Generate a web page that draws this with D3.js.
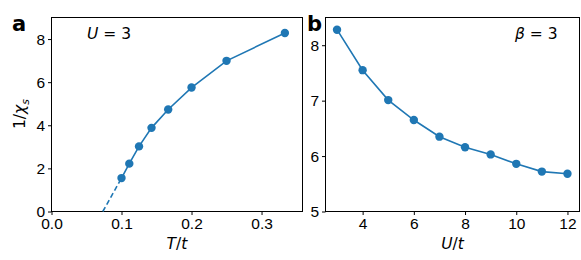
<!DOCTYPE html>
<html>
<head>
<meta charset="utf-8">
<script src="https://cdn.jsdelivr.net/npm/d3@7"></script>
<style>
  body { margin: 0; background: #fff; }
  svg { display: block; font-family: "DejaVu Sans", sans-serif; }
  .axis text { font-size: 15.5px; fill: #000; }
  .axis path, .axis line { stroke: #000; stroke-width: 1; }
</style>
</head>
<body>
<div id="chart"></div>
<script>
// panel a: 1/chi_s vs T/t at U = 3
var tempA = [1/10, 1/9, 1/8, 1/7, 1/6, 1/5, 1/4, 1/3];
var invChiA = [1.55, 2.22, 3.02, 3.88, 4.73, 5.75, 6.99, 8.28];
var extrapT = [0.0733, 0.1];
var extrapY = [0, 1.55];
var ticksA_x = [0.0, 0.1, 0.2, 0.3];
var ticksA_y = [0, 2, 4, 6, 8];

// panel b: 1/chi_s vs U/t at beta = 3
var uB = [3, 4, 5, 6, 7, 8, 9, 10, 11, 12];
var invChiB = [8.28, 7.55, 7.01, 6.65, 6.35, 6.16, 6.03, 5.86, 5.72, 5.68];
var ticksB_x = [4, 6, 8, 10, 12];
var ticksB_y = [5, 6, 7, 8];

var blue = "#1f77b4";
var w = 581, h = 260;
var svg = d3.select("#chart").append("svg").attr("width", w).attr("height", h);

function panel(opt) {
  var x = d3.scaleLinear().domain(opt.xdom).range([opt.left, opt.right]);
  var y = d3.scaleLinear().domain(opt.ydom).range([opt.bottom, opt.top]);
  var g = svg.append("g");

  g.append("g").attr("class", "axis")
    .attr("transform", "translate(0," + opt.bottom + ")")
    .call(d3.axisBottom(x).tickValues(opt.xt).tickSizeOuter(0).tickSize(3.5).tickPadding(3)
      .tickFormat(opt.xfmt))
    .select(".domain").remove();
  g.append("g").attr("class", "axis")
    .attr("transform", "translate(" + opt.left + ",0)")
    .call(d3.axisLeft(y).tickValues(opt.yt).tickSizeOuter(0).tickSize(3.5).tickPadding(3)
      .tickFormat(d3.format("d")))
    .select(".domain").remove();

  g.append("rect")
    .attr("x", opt.left).attr("y", opt.top)
    .attr("width", opt.right - opt.left).attr("height", opt.bottom - opt.top)
    .attr("fill", "none").attr("stroke", "#000").attr("stroke-width", 1);

  var clip = g.append("g");
  var line = d3.line().x(function (d) { return x(d[0]); }).y(function (d) { return y(d[1]); });
  var pts = d3.zip(opt.xs, opt.ys);
  if (opt.dash) {
    clip.append("path").datum(d3.zip(opt.dash[0], opt.dash[1]))
      .attr("d", line).attr("fill", "none").attr("stroke", blue)
      .attr("stroke-width", 1.6).attr("stroke-dasharray", "5,3");
  }
  clip.append("path").datum(pts).attr("d", line)
    .attr("fill", "none").attr("stroke", blue).attr("stroke-width", 1.6);
  clip.selectAll("circle").data(pts).enter().append("circle")
    .attr("cx", function (d) { return x(d[0]); })
    .attr("cy", function (d) { return y(d[1]); })
    .attr("r", 4.2).attr("fill", blue);

  g.append("text").attr("x", (opt.left + opt.right) / 2).attr("y", 249)
    .attr("text-anchor", "middle").style("font-size", "15.5px")
    .html(opt.xlabel);
  g.append("text").attr("x", opt.tagX).attr("y", 31)
    .style("font-size", "21px").style("font-weight", "bold").text(opt.tag);
  g.append("text").attr("x", opt.annX).attr("y", 39)
    .style("font-size", "15.5px").html(opt.ann);
}

panel({
  left: 51.5, right: 302.5, top: 17.5, bottom: 211.5,
  xdom: [0, 0.3585], ydom: [0, 9],
  xt: ticksA_x, yt: ticksA_y, xfmt: d3.format(".1f"),
  xs: tempA, ys: invChiA, dash: [extrapT, extrapY],
  xlabel: '<tspan font-style="italic">T</tspan>/<tspan font-style="italic">t</tspan>',
  tag: "a", tagX: 12,
  ann: '<tspan font-style="italic">U</tspan> = 3', annX: 87
});

panel({
  left: 325.5, right: 579.5, top: 17.5, bottom: 211.5,
  xdom: [2.55, 12.47], ydom: [5, 8.5],
  xt: ticksB_x, yt: ticksB_y, xfmt: d3.format("d"),
  xs: uB, ys: invChiB,
  xlabel: '<tspan font-style="italic">U</tspan>/<tspan font-style="italic">t</tspan>',
  tag: "b", tagX: 307,
  ann: '<tspan font-style="italic">β</tspan> = 3', annX: 515
});

svg.append("text")
  .attr("transform", "translate(25,114) rotate(-90)")
  .attr("text-anchor", "middle").style("font-size", "15.5px")
  .html('1/<tspan font-style="italic">χ</tspan><tspan font-style="italic" font-size="11px" dy="4">s</tspan>');
</script>
</body>
</html>
